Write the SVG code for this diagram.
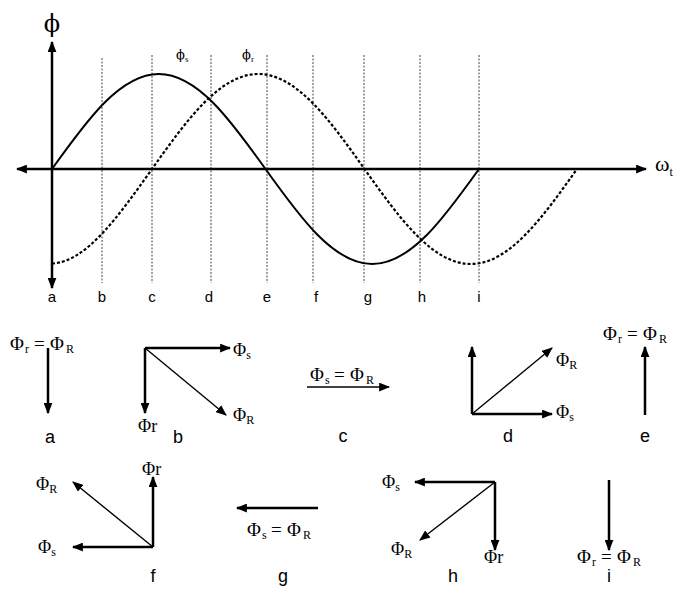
<svg xmlns="http://www.w3.org/2000/svg" width="678" height="589" viewBox="0 0 678 589">
<defs>
<marker id="ah" viewBox="0 0 10 8" refX="9" refY="4" markerWidth="11" markerHeight="9" markerUnits="userSpaceOnUse" orient="auto-start-reverse"><path d="M0,0 L10,4 L0,8 z" fill="#000"/></marker>
<style>
.ax{stroke:#000;stroke-width:2.5;fill:none}
.sol{stroke:#000;stroke-width:2;fill:none}
.dsh{stroke:#000;stroke-width:2.2;fill:none;stroke-dasharray:3 2}
.grid{stroke:#444;stroke-width:1;stroke-dasharray:2 1.5}
.thk{stroke:#000;stroke-width:2.5;fill:none}
.thn{stroke:#000;stroke-width:1.4;fill:none}
.ser{font-family:"Liberation Serif","Times New Roman",serif;font-size:18px;fill:#000}
.eq{font-size:19px}
.sub{font-size:12px}
.phi{font-family:"DejaVu Serif","Liberation Serif",serif;fill:#000}
.lbl{font-family:"Liberation Sans",Arial,sans-serif;font-size:18px;fill:#000;text-anchor:middle}
.alb{font-family:"Liberation Sans",Arial,sans-serif;font-size:15px;fill:#000;text-anchor:middle}
</style>
</defs>
<rect width="678" height="589" fill="#fff"/>

<g id="graph">
<g id="gridlines">
<line class="grid" x1="102" y1="58" x2="102" y2="283"/>
<line class="grid" x1="152" y1="55" x2="152" y2="283"/>
<line class="grid" x1="211" y1="55" x2="211" y2="283"/>
<line class="grid" x1="267" y1="55" x2="267" y2="283"/>
<line class="grid" x1="313" y1="55" x2="313" y2="283"/>
<line class="grid" x1="364" y1="55" x2="364" y2="283"/>
<line class="grid" x1="420" y1="55" x2="420" y2="283"/>
<line class="grid" x1="479" y1="55" x2="479" y2="283"/>
</g>
<line class="ax" x1="52" y1="288" x2="52" y2="42" marker-start="url(#ah)" marker-end="url(#ah)"/>
<line class="ax" x1="17" y1="169" x2="646" y2="169" marker-start="url(#ah)" marker-end="url(#ah)"/>
<path id="phi-s" class="sol" d="M52,169 C86.8,120.3 120.1,74 158.75,74 C197.4,74 230.7,120.3 265.5,169 C300.3,217.7 333.6,264 372.25,264 C410.9,264 444.2,217.7 479,169"/>
<path id="phi-r" class="dsh" d="M52,263.5 C86,262 117.4,217.7 152,169 C186.6,120.3 219.8,74 258.25,74 C296.7,74 329.9,120.3 364.5,169 C399.1,217.7 432.3,264 470.75,264 C509.2,264 542.4,217.7 577,169"/>
<text class="phi" x="52" y="32" text-anchor="middle" font-size="24">ϕ</text>
<text x="655" y="171" font-family="Liberation Serif,serif" font-size="22">ω<tspan font-size="12" dy="5">t</tspan></text>
<text class="phi" x="176" y="59" font-size="13">ϕ<tspan font-family="Liberation Serif,serif" font-size="9" dy="3">s</tspan></text>
<text class="phi" x="242" y="59" font-size="13">ϕ<tspan font-family="Liberation Serif,serif" font-size="9" dy="3">r</tspan></text>
<g id="axis-letters">
<text class="alb" x="52" y="302">a</text>
<text class="alb" x="102" y="302">b</text>
<text class="alb" x="152" y="302">c</text>
<text class="alb" x="209" y="302">d</text>
<text class="alb" x="267" y="302">e</text>
<text class="alb" x="316" y="302">f</text>
<text class="alb" x="368" y="302">g</text>
<text class="alb" x="422" y="302">h</text>
<text class="alb" x="479" y="302">i</text>
</g>
</g>

<g id="connectors">
<line class="thk" x1="48" y1="348" x2="48" y2="413" marker-end="url(#ah)"/>
<line class="thk" x1="145" y1="348" x2="230" y2="348" marker-end="url(#ah)"/>
<line class="thk" x1="145" y1="348" x2="145" y2="413" marker-end="url(#ah)"/>
<line class="thn" x1="145" y1="348" x2="226" y2="415" marker-end="url(#ah)"/>
<line class="thn" x1="307" y1="387" x2="389" y2="387" marker-end="url(#ah)"/>
<line class="thk" x1="472" y1="414" x2="472" y2="347" marker-end="url(#ah)"/>
<line class="thk" x1="472" y1="414" x2="552" y2="414" marker-end="url(#ah)"/>
<line class="thn" x1="472" y1="414" x2="552" y2="348" marker-end="url(#ah)"/>
<line class="thk" x1="645" y1="415" x2="645" y2="347" marker-end="url(#ah)"/>
<line class="thk" x1="153" y1="547" x2="153" y2="477" marker-end="url(#ah)"/>
<line class="thk" x1="153" y1="547" x2="73" y2="547" marker-end="url(#ah)"/>
<line class="thn" x1="153" y1="547" x2="73" y2="482" marker-end="url(#ah)"/>
<line class="thk" x1="318" y1="508" x2="237" y2="508" marker-end="url(#ah)" stroke-width="2"/>
<line class="thk" x1="495" y1="482" x2="415" y2="482" marker-end="url(#ah)"/>
<line class="thk" x1="495" y1="482" x2="495" y2="550" marker-end="url(#ah)"/>
<line class="thn" x1="495" y1="482" x2="420" y2="540" marker-end="url(#ah)"/>
<line class="thk" x1="609" y1="480" x2="609" y2="550" marker-end="url(#ah)"/>
</g>

<g id="node-a">
<text class="ser eq" y="350"><tspan x="10">Φ</tspan><tspan class="sub" x="25" y="353">r</tspan><tspan x="34" y="350">=</tspan><tspan x="50">Φ</tspan><tspan class="sub" x="66" y="353">R</tspan></text>
<text class="lbl" x="50" y="443">a</text>
</g>
<g id="node-b">
<text class="ser" x="233" y="356">Φ<tspan class="sub" dy="3">s</tspan></text>
<text class="ser" x="233" y="421">Φ<tspan class="sub" dy="3">R</tspan></text>
<text class="ser" x="138" y="432" font-size="17">Φr</text>
<text class="lbl" x="178" y="443">b</text>
</g>
<g id="node-c">
<text class="ser eq" y="381"><tspan x="310">Φ</tspan><tspan class="sub" x="325" y="384">s</tspan><tspan x="334" y="381">=</tspan><tspan x="350">Φ</tspan><tspan class="sub" x="366" y="384">R</tspan></text>
<text class="lbl" x="343" y="442">c</text>
</g>
<g id="node-d">
<text class="ser" x="556" y="366">Φ<tspan class="sub" dy="3">R</tspan></text>
<text class="ser" x="556" y="418">Φ<tspan class="sub" dy="3">s</tspan></text>
<text class="lbl" x="508" y="442">d</text>
</g>
<g id="node-e">
<text class="ser eq" y="340"><tspan x="603">Φ</tspan><tspan class="sub" x="618" y="343">r</tspan><tspan x="627" y="340">=</tspan><tspan x="643">Φ</tspan><tspan class="sub" x="659" y="343">R</tspan></text>
<text class="lbl" x="645" y="442">e</text>
</g>
<g id="node-f">
<text class="ser" x="142" y="475" font-size="17">Φr</text>
<text class="ser" x="38" y="553">Φ<tspan class="sub" dy="3">s</tspan></text>
<text class="ser" x="36" y="490">Φ<tspan class="sub" dy="3">R</tspan></text>
<text class="lbl" x="153" y="582">f</text>
</g>
<g id="node-g">
<text class="ser eq" y="536"><tspan x="247">Φ</tspan><tspan class="sub" x="262" y="539">s</tspan><tspan x="271" y="536">=</tspan><tspan x="287">Φ</tspan><tspan class="sub" x="303" y="539">R</tspan></text>
<text class="lbl" x="283" y="582">g</text>
</g>
<g id="node-h">
<text class="ser" x="382" y="488">Φ<tspan class="sub" dy="3">s</tspan></text>
<text class="ser" x="391" y="555">Φ<tspan class="sub" dy="3">R</tspan></text>
<text class="ser" x="484" y="563" font-size="17">Φr</text>
<text class="lbl" x="453" y="582">h</text>
</g>
<g id="node-i">
<text class="ser eq" y="563"><tspan x="577">Φ</tspan><tspan class="sub" x="592" y="566">r</tspan><tspan x="601" y="563">=</tspan><tspan x="617">Φ</tspan><tspan class="sub" x="633" y="566">R</tspan></text>
<text class="lbl" x="609" y="582">i</text>
</g>
</svg>
